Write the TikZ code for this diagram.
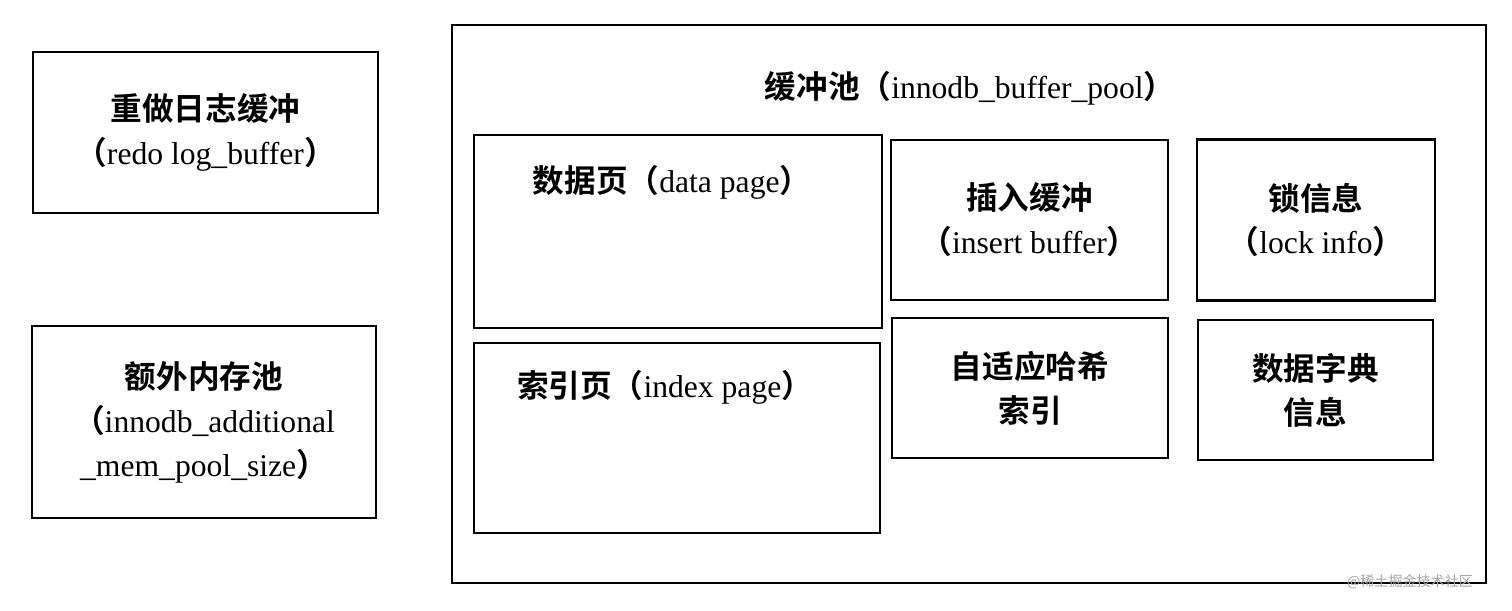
\documentclass[tikz,border=0pt]{standalone}
\usepackage{fontspec}
\setmainfont{Liberation Serif}
\newfontfamily\cjk[BoldFont=* Bold]{Noto Sans CJK SC}
\newcommand{\en}[1]{{\rmfamily\mdseries #1}}
\usetikzlibrary{positioning}

\begin{document}
\begin{tikzpicture}[x=0.02cm, y=-0.02cm]
	\tikzstyle{membox} = [rectangle, draw=black, line width=1.5pt, inner sep=0pt, align=center, font=\cjk\bfseries\fontsize{18}{25}\selectfont]
	\tikzstyle{label} = [align=center, inner sep=0pt, font=\cjk\bfseries\fontsize{18}{25}\selectfont]

	\useasboundingbox (0,0) rectangle (1512,610);
	\node (redo) [membox, minimum width=345*0.02cm, minimum height=161*0.02cm] at (205.5,132.5) {重做日志缓冲\\（\en{redo log\_buffer}）};
	\node (extra) [membox, minimum width=344*0.02cm, minimum height=192*0.02cm] at (204,422) {额外内存池\\（\en{innodb\_additional}\\\en{\_mem\_pool\_size}）};
	\node (pool) [membox, minimum width=1034*0.02cm, minimum height=558*0.02cm] at (969,304) {};
	\node (pooltitle) [label] at (970,88) {缓冲池（\en{innodb\_buffer\_pool}）};
	\node (data) [membox, minimum width=408*0.02cm, minimum height=193*0.02cm] at (678,231.5) {};
	\node (datatitle) [label] at (672,182) {数据页（\en{data page}）};
	\node (index) [membox, minimum width=406*0.02cm, minimum height=190*0.02cm] at (677,438) {};
	\node (indextitle) [label] at (665,387) {索引页（\en{index page}）};
	\node (insert) [membox, minimum width=277*0.02cm, minimum height=160*0.02cm] at (1029.5,220) {插入缓冲\\（\en{insert buffer}）};
	\node (lock) [membox, minimum width=238*0.02cm, minimum height=161*0.02cm] at (1316,220) {锁信息\\（\en{lock info}）};
	\node (hash) [membox, minimum width=276*0.02cm, minimum height=140*0.02cm] at (1030,388) {自适应哈希\\索引};
	\node (dict) [membox, minimum width=235*0.02cm, minimum height=140*0.02cm] at (1315.5,390) {数据字典\\信息};
	\node (mark) [label, text=gray!70, font=\cjk\footnotesize] at (1410,582) {@稀土掘金技术社区};
\end{tikzpicture}
\end{document}
